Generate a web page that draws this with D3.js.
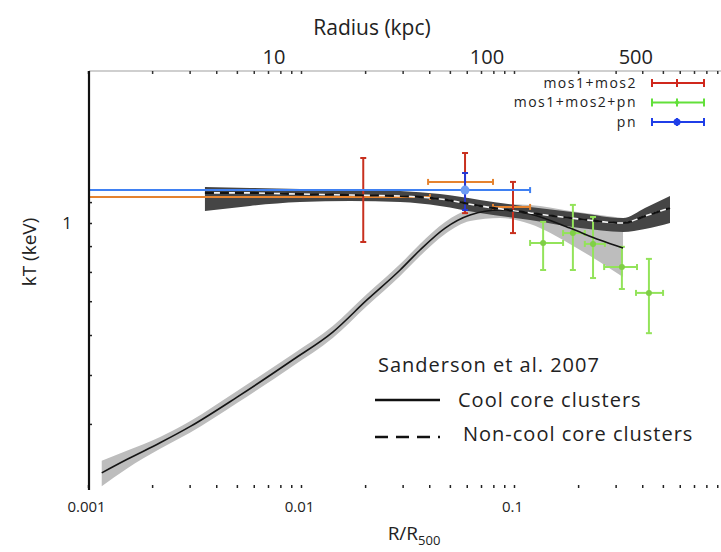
<!DOCTYPE html>
<html>
<head>
<meta charset="utf-8">
<script src="https://cdn.jsdelivr.net/npm/d3@7/dist/d3.min.js"></script>
<style>
  body { margin: 0; background: #fff; }
  svg { display: block; font-family: "Open Sans", sans-serif; }
</style>
</head>
<body>
<svg id="chart" width="721" height="552"></svg>
<script>
// Sanderson et al. 2007 profiles, R/R500 vs kT (keV), with scatter band
const ccR  = [0.00116, 0.00152, 0.00218, 0.00301, 0.00501, 0.00917, 0.0141, 0.0204, 0.0292, 0.0362, 0.0475, 0.0622, 0.0860, 0.119, 0.183, 0.253, 0.325]
const ccT  = [0.320, 0.340, 0.367, 0.395, 0.452, 0.536, 0.608, 0.704, 0.807, 0.884, 0.977, 1.037, 1.061, 1.042, 0.977, 0.925, 0.892]
const ccHi = [0.338, 0.354, 0.377, 0.405, 0.465, 0.550, 0.625, 0.723, 0.829, 0.909, 1.005, 1.066, 1.090, 1.085, 1.056, 1.037, 1.023]
const ccLo = [0.301, 0.326, 0.357, 0.384, 0.440, 0.521, 0.592, 0.685, 0.785, 0.860, 0.951, 1.009, 1.023, 0.995, 0.909, 0.837, 0.782]

const nccR  = [0.00354, 0.00576, 0.00989, 0.0170, 0.0292, 0.0449, 0.0692, 0.119, 0.204, 0.325, 0.412, 0.540]
const nccT  = [1.147, 1.147, 1.141, 1.136, 1.131, 1.116, 1.081, 1.047, 1.018, 1.000, 1.032, 1.071]
const nccHi = [1.178, 1.173, 1.168, 1.162, 1.157, 1.141, 1.111, 1.076, 1.047, 1.023, 1.071, 1.131]
const nccLo = [1.056, 1.081, 1.100, 1.105, 1.100, 1.081, 1.047, 1.014, 0.977, 0.960, 0.973, 1.000]

// XMM spectra: radius (with bin range) and kT (with errors)
const mosR   = [0.0196, 0.0589, 0.0989]
const mosRLo = [0.0005, 0.0395, 0.0797]
const mosRHi = [0.0403, 0.0797, 0.119]
const mosT   = [1.126, 1.206, 1.076]
const mosTLo = [0.917, 1.046, 0.955]
const mosTHi = [1.345, 1.376, 1.206]

const allR   = [0.137, 0.189, 0.235, 0.321, 0.430]
const allRLo = [0.119, 0.170, 0.215, 0.265, 0.374]
const allRHi = [0.170, 0.215, 0.267, 0.378, 0.501]
const allT   = [0.913, 0.955, 0.909, 0.818, 0.727]
const allTLo = [0.807, 0.807, 0.778, 0.740, 0.605]
const allTHi = [1.005, 1.086, 1.028, 0.897, 0.849]

const pnR   = [0.0589]
const pnRLo = [0.0005]
const pnRHi = [0.119]
const pnT   = [1.162]
const pnTLo = [1.061]
const pnTHi = [1.256]

// axes
const xLabels = [0.001, 0.01, 0.1]
const kTTicks = [0.4, 0.5, 0.6, 0.7, 0.8, 0.9, 1, 1.1]
const kTLabels = [1]
const kpcTicks = [10, 100, 500]
const r500 = 1340 // kpc

const dims = { width: 721, height: 552, left: 89, right: 721, top: 71, bottom: 487 }

const x = d3.scaleLog().domain([0.001, 1]).range([88, 727])
const y = d3.scaleLog().domain([0.3, 2]).range([dims.bottom, dims.top])

const svg = d3.select("#chart")

svg.append("defs").append("clipPath").attr("id", "clip")
    .append("rect")
    .attr("x", dims.left).attr("y", dims.top)
    .attr("width", dims.right - dims.left)
    .attr("height", dims.bottom - dims.top + 3)

const zip = (r, t, lo, hi) => r.map((d, i) => ({ r: d, t: t[i], lo: lo[i], hi: hi[i] }))
const cc = zip(ccR, ccT, ccLo, ccHi)
const ncc = zip(nccR, nccT, nccLo, nccHi)

const area = d3.area()
    .x(d => x(d.r)).y0(d => y(d.lo)).y1(d => y(d.hi))
    .curve(d3.curveMonotoneX)
const line = d3.line()
    .x(d => x(d.r)).y(d => y(d.t))
    .curve(d3.curveMonotoneX)

const plotG = svg.append("g").attr("clip-path", "url(#clip)")

// bands
plotG.append("path").datum(cc).attr("d", area).attr("fill", "#bdbdbd")
plotG.append("path").datum(ncc).attr("d", area).attr("fill", "#454545")

// error bars
const series = [
    { name: "mos1+mos2", r: mosR, rLo: mosRLo, rHi: mosRHi, t: mosT, tLo: mosTLo, tHi: mosTHi,
      hColor: "#e5832f", vColor: "#c8301f", key: "#d0281c", marker: 0 },
    { name: "mos1+mos2+pn", r: allR, rLo: allRLo, rHi: allRHi, t: allT, tLo: allTLo, tHi: allTHi,
      hColor: "#93e35a", vColor: "#93e35a", key: "#62e03a", marker: 3 },
    { name: "pn", r: pnR, rLo: pnRLo, rHi: pnRHi, t: pnT, tLo: pnTLo, tHi: pnTHi,
      hColor: "#3f80f2", vColor: "#2638d2", key: "#1f3ee8", marker: 4.5 },
]
const cap = 3

for (let s of series) {
    let pts = s.r.map((d, i) => ({ r: d, rLo: s.rLo[i], rHi: s.rHi[i], t: s.t[i], tLo: s.tLo[i], tHi: s.tHi[i] }))
    let g = plotG.append("g").attr("stroke-width", 2)
    // horizontal bar + end caps
    g.selectAll(".hbar").data(pts).enter().append("line")
        .attr("x1", d => x(d.rLo)).attr("x2", d => x(d.rHi))
        .attr("y1", d => y(d.t)).attr("y2", d => y(d.t))
        .attr("stroke", s.hColor)
    g.selectAll(".hcap").data(pts.flatMap(d => [{ r: d.rLo, t: d.t }, { r: d.rHi, t: d.t }])).enter().append("line")
        .attr("x1", d => x(d.r)).attr("x2", d => x(d.r))
        .attr("y1", d => y(d.t) - cap).attr("y2", d => y(d.t) + cap)
        .attr("stroke", s.hColor)
    // vertical bar + end caps
    g.selectAll(".vbar").data(pts).enter().append("line")
        .attr("x1", d => x(d.r)).attr("x2", d => x(d.r))
        .attr("y1", d => y(d.tLo)).attr("y2", d => y(d.tHi))
        .attr("stroke", s.vColor)
    g.selectAll(".vcap").data(pts.flatMap(d => [{ r: d.r, t: d.tLo }, { r: d.r, t: d.tHi }])).enter().append("line")
        .attr("x1", d => x(d.r) - cap).attr("x2", d => x(d.r) + cap)
        .attr("y1", d => y(d.t)).attr("y2", d => y(d.t))
        .attr("stroke", s.vColor)
    if (s.marker) {
        g.selectAll("circle").data(pts).enter().append("circle")
            .attr("cx", d => x(d.r)).attr("cy", d => y(d.t))
            .attr("r", s.marker)
            .attr("fill", s.name == "pn" ? "#6d9cf3" : "#7fcf45")
            .attr("stroke", "none")
    }
}

// profile lines
plotG.append("path").datum(cc).attr("d", line)
    .attr("fill", "none").attr("stroke", "#151515").attr("stroke-width", 1.6)
plotG.append("path").datum(ncc).attr("d", line)
    .attr("fill", "none").attr("stroke", "#f4f4f4").attr("stroke-width", 1.6)
plotG.append("path").datum(ncc).attr("d", line)
    .attr("fill", "none").attr("stroke", "#111").attr("stroke-width", 2.2)
    .attr("stroke-dasharray", "9,6")

// bottom axis (R/R500)
let fmt = d => xLabels.indexOf(d) > -1 ? d3.format("~g")(d) : ""
let bottomAxis = svg.append("g")
    .attr("transform", `translate(0,${dims.bottom - 2})`)
    .call(d3.axisBottom(x).tickValues(x.ticks()).tickFormat(fmt).tickSizeInner(3).tickSizeOuter(0).tickPadding(13))
bottomAxis.select(".domain").remove()
bottomAxis.selectAll(".tick line").attr("stroke", "#222").attr("stroke-width", 1.5)
bottomAxis.selectAll("text").attr("font-size", 15).attr("fill", "#222")
    .attr("font-family", "Open Sans").attr("dx", -2)

// top axis (kpc)
svg.append("line")
    .attr("x1", dims.left).attr("x2", dims.right)
    .attr("y1", dims.top).attr("y2", dims.top)
    .attr("stroke", "#cfcfcf").attr("stroke-width", 2)
let topAxis = svg.append("g")
    .attr("transform", `translate(0,${dims.top})`)
    .call(d3.axisBottom(x).tickValues(x.ticks()).tickFormat("").tickSizeInner(3).tickSizeOuter(0))
topAxis.select(".domain").remove()
topAxis.selectAll(".tick line").attr("stroke", "#333").attr("stroke-width", 1.5)
svg.append("g").selectAll("text").data(kpcTicks).enter().append("text")
    .attr("x", d => x(d / r500))
    .attr("y", dims.top - 7)
    .attr("text-anchor", "middle")
    .attr("font-size", 20)
    .attr("fill", "#222")
    .text(d => d)

// left axis (kT)
let leftAxis = svg.append("g")
    .attr("transform", `translate(${dims.left},0)`)
    .call(d3.axisLeft(y).tickValues(kTTicks)
        .tickFormat(d => kTLabels.indexOf(d) > -1 ? d : "")
        .tickSizeInner(-3).tickSizeOuter(0).tickPadding(17))
leftAxis.select(".domain").remove()
leftAxis.selectAll(".tick line").attr("stroke", "#222").attr("stroke-width", 1.5)
leftAxis.selectAll("text").attr("font-size", 17).attr("fill", "#222").attr("font-family", "Open Sans")
svg.append("line")
    .attr("x1", dims.left).attr("x2", dims.left)
    .attr("y1", dims.top).attr("y2", dims.bottom + 3)
    .attr("stroke", "#111").attr("stroke-width", 2.2)

// axis titles
svg.append("text")
    .attr("x", 372).attr("y", 35)
    .attr("text-anchor", "middle").attr("font-size", 21).attr("fill", "#222")
    .text("Radius (kpc)")
svg.append("text")
    .attr("transform", "translate(36,252) rotate(-90)")
    .attr("text-anchor", "middle").attr("font-size", 19).attr("fill", "#222")
    .text("kT (keV)")
let xt = svg.append("text")
    .attr("x", 414).attr("y", 540)
    .attr("text-anchor", "middle").attr("font-size", 19).attr("fill", "#222")
xt.append("tspan").text("R/R")
xt.append("tspan").attr("font-size", 13).attr("dy", 5).text("500")

// legend for XMM data
let legend = svg.append("g").attr("transform", "translate(637,83)")
let rows = legend.selectAll("g").data(series).enter().append("g")
    .attr("transform", (d, i) => `translate(0,${i * 19.5})`)
rows.append("text")
    .attr("text-anchor", "end").attr("dy", "0.35em")
    .attr("font-size", 14).attr("letter-spacing", 1.5).attr("fill", "#222")
    .text(d => d.name)
rows.append("line")
    .attr("x1", 15).attr("x2", 67).attr("y1", 0).attr("y2", 0)
    .attr("stroke", d => d.key).attr("stroke-width", 2)
rows.selectAll(".endcap").data(d => [15, 67].map(p => ({ p, c: d.key }))).enter().append("line")
    .attr("x1", d => d.p).attr("x2", d => d.p).attr("y1", -4).attr("y2", 4)
    .attr("stroke", d => d.c).attr("stroke-width", 2)
rows.append("line")
    .attr("x1", 40).attr("x2", 40).attr("y1", -4).attr("y2", 4)
    .attr("stroke", d => d.key).attr("stroke-width", 2)
rows.filter(d => d.marker).append("circle")
    .attr("cx", 40).attr("cy", 0).attr("r", d => d.marker - 1)
    .attr("fill", d => d.key)

// legend for Sanderson et al. profiles
const profileNames = ["Cool core clusters", "Non-cool core clusters"]
let pleg = svg.append("g").attr("letter-spacing", 1)
pleg.append("text")
    .attr("x", 378).attr("y", 372)
    .attr("font-size", 20).attr("fill", "#222")
    .text("Sanderson et al. 2007")
pleg.selectAll(".pl").data(profileNames).enter().append("line")
    .attr("x1", 375).attr("x2", 440)
    .attr("y1", (d, i) => 400 + i * 37).attr("y2", (d, i) => 400 + i * 37)
    .attr("stroke", "#111").attr("stroke-width", 2.5)
    .attr("stroke-dasharray", (d, i) => i ? "13,8" : null)
pleg.selectAll(".pt").data(profileNames).enter().append("text")
    .attr("x", (d, i) => 458 + i * 5).attr("y", (d, i) => 407 + i * 34)
    .attr("font-size", 20).attr("fill", "#222")
    .text(d => d)
</script>
</body>
</html>
